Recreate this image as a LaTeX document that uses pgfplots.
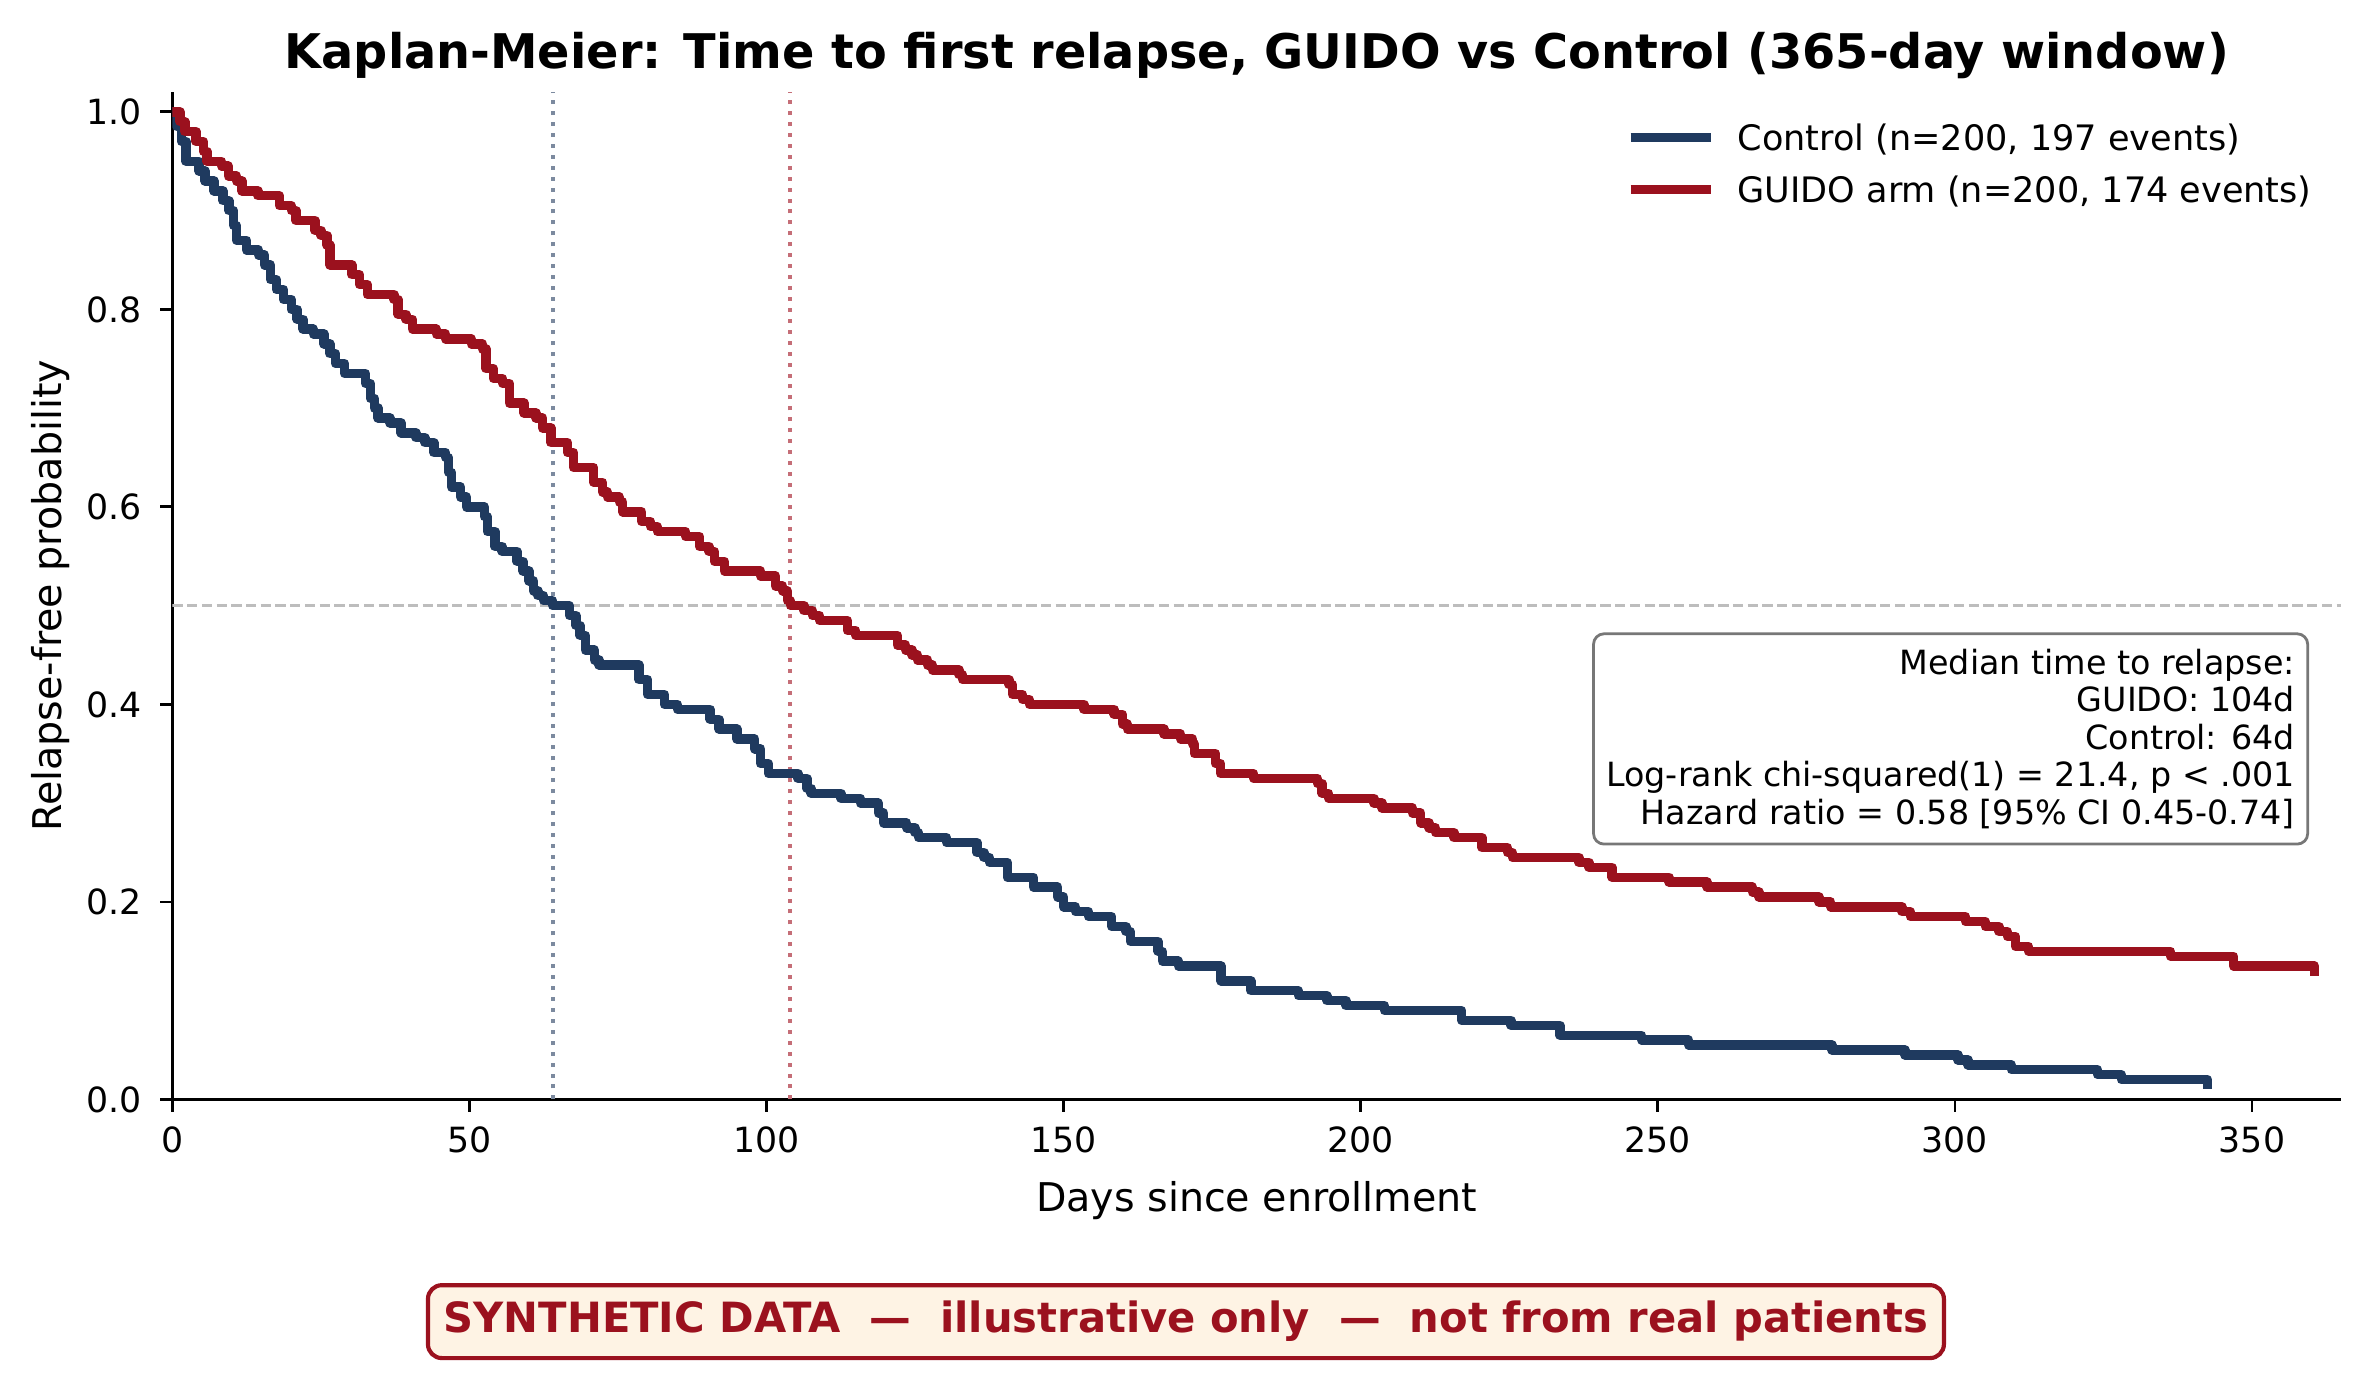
\documentclass[border=0pt]{standalone}
\usepackage{fontspec}
\setmainfont{DejaVu Sans}
\usepackage{pgfplots}
\pgfplotsset{compat=1.18}
\usetikzlibrary{calc}

\definecolor{ctrl}{HTML}{1F3A5F}
\definecolor{guido}{HTML}{9B111E}
\definecolor{ctrlmed}{HTML}{7C8A9F}
\definecolor{guidomed}{HTML}{C56E77}
\definecolor{halfline}{HTML}{BDBDBD}
\definecolor{boxedge}{HTML}{777777}
\definecolor{footfill}{HTML}{FEF3E4}

% Kaplan-Meier step estimates (day, survival after the drop)
\pgfplotstableread{
day surv
0 1.000
0.8 0.985
1.5 0.970
2.3 0.950
4.5 0.940
5.5 0.930
7.0 0.920
8.5 0.910
9.5 0.900
10.3 0.885
10.8 0.870
12.5 0.860
14.5 0.855
15.5 0.845
16.5 0.830
17.5 0.820
18.7 0.810
20.0 0.800
21.0 0.790
22.0 0.780
23.7 0.775
25.5 0.765
26.5 0.755
27.5 0.745
29.0 0.735
32.5 0.725
33.3 0.710
34.0 0.700
34.6 0.690
36.6 0.685
38.5 0.675
41.0 0.670
42.5 0.665
44.0 0.655
46.0 0.650
46.5 0.635
47.0 0.620
48.5 0.610
49.5 0.600
52.5 0.590
53.0 0.575
54.3 0.560
55.5 0.555
58.0 0.545
59.0 0.535
60.0 0.525
60.8 0.515
61.5 0.510
62.5 0.505
64.0 0.500
66.8 0.490
67.9 0.480
68.6 0.470
69.5 0.455
71.0 0.445
71.8 0.440
78.5 0.425
80.0 0.410
82.8 0.400
85.0 0.395
90.5 0.385
92.0 0.375
95.0 0.365
98.0 0.355
99.0 0.340
100.3 0.330
105.3 0.325
106.8 0.315
107.5 0.310
112.5 0.305
115.8 0.300
118.8 0.290
119.7 0.280
123.6 0.275
125.0 0.270
125.6 0.265
130.3 0.260
135.4 0.250
136.6 0.245
137.5 0.240
140.5 0.225
144.9 0.215
149.0 0.205
150.0 0.195
152.0 0.190
154.2 0.185
158.1 0.175
160.5 0.170
161.2 0.160
165.9 0.150
166.6 0.140
169.3 0.135
176.5 0.120
181.5 0.110
189.5 0.105
194.3 0.100
197.5 0.095
204.0 0.090
217.0 0.080
225.3 0.075
233.5 0.065
247.3 0.060
255.2 0.055
279.3 0.050
291.6 0.045
300.5 0.040
302.2 0.035
309.5 0.030
324.0 0.025
328.0 0.020
342.5 0.015
}\controlarm

\pgfplotstableread{
day surv
0 1.000
1.3 0.990
2.1 0.980
4.0 0.970
5.2 0.960
5.8 0.950
8.3 0.945
9.4 0.935
10.8 0.930
11.7 0.920
14.4 0.915
18.0 0.905
20.0 0.900
20.8 0.890
24.0 0.880
25.0 0.875
26.0 0.865
26.5 0.845
30.2 0.835
31.5 0.825
32.8 0.815
37.3 0.810
38.0 0.795
39.3 0.790
40.4 0.780
44.4 0.775
46.0 0.770
50.3 0.765
52.2 0.760
52.8 0.740
54.0 0.730
55.6 0.725
56.7 0.705
59.2 0.695
61.2 0.690
62.3 0.680
63.7 0.665
66.5 0.655
67.5 0.640
70.9 0.625
72.4 0.615
73.2 0.610
75.2 0.605
75.8 0.595
79.0 0.585
80.5 0.580
81.6 0.575
86.4 0.570
88.7 0.560
90.3 0.555
91.2 0.545
92.9 0.535
99.0 0.530
101.5 0.520
102.7 0.515
103.5 0.505
104.0 0.500
106.3 0.495
107.7 0.490
108.9 0.485
113.6 0.475
115.0 0.470
122.0 0.460
123.4 0.455
124.5 0.450
125.4 0.445
127.1 0.440
127.9 0.435
132.4 0.430
133.0 0.425
140.8 0.420
141.4 0.410
143.1 0.405
144.2 0.400
153.4 0.395
158.5 0.390
159.9 0.380
160.7 0.375
166.9 0.370
169.7 0.365
171.7 0.360
172.0 0.350
175.6 0.340
176.4 0.330
182.0 0.325
192.7 0.320
193.5 0.310
194.6 0.305
202.2 0.300
203.6 0.295
208.7 0.290
210.1 0.280
211.5 0.275
212.6 0.270
215.7 0.265
220.4 0.255
224.7 0.250
225.5 0.245
236.7 0.240
238.4 0.235
242.3 0.225
251.9 0.220
258.3 0.215
265.9 0.210
267.0 0.205
277.1 0.200
279.1 0.195
291.1 0.190
292.5 0.185
301.8 0.180
305.1 0.175
307.4 0.170
308.8 0.165
310.2 0.155
312.4 0.150
336.3 0.145
346.9 0.135
360.5 0.130
}\guidoarm

\begin{document}
\begin{tikzpicture}
\begin{axis}[
  name=ax,
  at={(0,0)}, anchor=south west,
  scale only axis,
  width=624.6bp, height=290.1bp,
  xmin=0, xmax=365, ymin=0, ymax=1.02,
  axis x line*=bottom, axis y line*=left,
  axis line style={-, line width=0.8bp, black},
  xtick={0,50,100,150,200,250,300,350},
  ytick={0,0.2,0.4,0.6,0.8,1.0},
  minor tick num=0,
  tick align=outside,
  major tick length=3.5bp,
  every tick/.style={black, line width=0.8bp},
  /pgf/number format/assume math mode=true,
  tick label style={font=\fontsize{10bp}{12bp}\selectfont},
  xticklabel style={anchor=north, inner sep=0pt, text height=7.3bp, text depth=0pt},
  yticklabel style={anchor=east, inner sep=0pt,
    /pgf/number format/.cd, fixed, fixed zerofill, precision=1},
  xticklabel shift=4.2bp,
  yticklabel shift=5.2bp,
  title={Kaplan-Meier: Time to first relapse, GUIDO vs Control (365-day window)},
  title style={at={(0.5,1)}, anchor=base, yshift=0.7bp, inner sep=0pt,
    font=\fontsize{13.75bp}{16.5bp}\selectfont\bfseries},
  xlabel={Days since enrollment},
  xlabel style={at={(axis description cs:0.5,-0.111)}, anchor=base, inner sep=0pt,
    font=\fontsize{11.4bp}{13.7bp}\selectfont},
  ylabel={Relapse-free probability},
  ylabel style={at={(axis description cs:-0.0513,0.5)}, anchor=base, rotate=0, inner sep=0pt,
    font=\fontsize{11.4bp}{13.7bp}\selectfont},
  legend cell align=left,
  legend image code/.code={\draw[#1, line cap=butt] (0bp,0bp) -- (23.2bp,0bp);},
  legend style={draw=none, fill=none, at={(rel axis cs:0.6702,0.9674)}, anchor=north west,
    inner sep=0pt, outer sep=0pt, row sep=7.7bp,
    font=\fontsize{10.1bp}{12bp}\selectfont,
    nodes={inner sep=0pt, text height=7.3bp, text depth=0pt},
    /tikz/every odd column/.style={column sep=6.3bp}},
]
% reference lines: 50% survival and the two medians
\addplot[halfline, line width=0.8bp, dash pattern=on 2.96bp off 1.28bp, forget plot]
  coordinates {(0,0.5) (365,0.5)};
\addplot[ctrlmed, line width=1.15bp, dash pattern=on 1.15bp off 2.0bp, forget plot]
  coordinates {(64,0) (64,1.02)};
\addplot[guidomed, line width=1.15bp, dash pattern=on 1.15bp off 2.0bp, forget plot]
  coordinates {(104,0) (104,1.02)};

% survival curves
\addplot[const plot, ctrl, line width=2.7bp, line join=round, line cap=rect]
  table[x=day, y=surv] {\controlarm};
\addlegendentry{Control (n=200, 197 events)}
\addplot[const plot, guido, line width=2.7bp, line join=round, line cap=rect]
  table[x=day, y=surv] {\guidoarm};
\addlegendentry{GUIDO arm (n=200, 174 events)}

\node[anchor=east, draw=boxedge, line width=0.8bp, fill=white, rounded corners=3bp,
  inner xsep=3.7bp, inner ysep=4.4bp, align=right,
  font=\fontsize{9.6bp}{10.8bp}\selectfont] at (axis cs:359.6,0.365)
  {Median time to relapse:\\GUIDO: 104d\\Control: 64d\\
   Log-rank chi-squared(1) = 21.4, p < .001\\
   Hazard ratio = 0.58 [95\% CI 0.45-0.74]};
\end{axis}

% disclaimer banner under the chart
\node[draw=guido, line width=1.2bp, fill=footfill, rounded corners=4bp,
  text=guido, font=\fontsize{12bp}{14bp}\selectfont\bfseries,
  minimum width=436.6bp, minimum height=21bp, inner sep=0pt]
  at ($(ax.south west)+(291.9bp,-64bp)$)
  {SYNTHETIC DATA\ \ —\ \ illustrative only\ \ —\ \ not from real patients};

\pgfresetboundingbox
\path[use as bounding box] ($(ax.south west)+(-49.65bp,-79.37bp)$) rectangle ++(682.85bp,396bp);
\end{tikzpicture}
\end{document}
